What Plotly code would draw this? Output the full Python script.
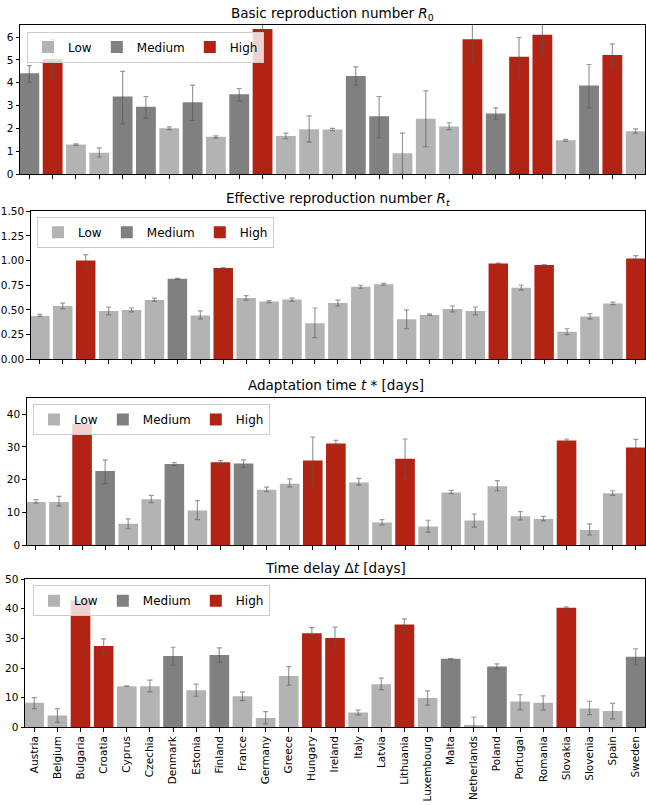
import plotly.graph_objects as go

countries = ["Austria", "Belgium", "Bulgaria", "Croatia", "Cyprus", "Czechia", "Denmark",
             "Estonia", "Finland", "France", "Germany", "Greece", "Hungary", "Ireland",
             "Italy", "Latvia", "Lithuania", "Luxembourg", "Malta", "Netherlands", "Poland",
             "Portugal", "Romania", "Slovakia", "Slovenia", "Spain", "Sweden"]

# Panel 1: basic reproduction number R0
r0_val = [4.42, 5.04, 1.30, 0.94, 3.40, 2.95, 2.01, 3.15, 1.64, 3.50, 6.36, 1.67, 1.97, 1.95,
          4.30, 2.53, 0.92, 2.43, 2.09, 5.91, 2.66, 5.14, 6.10, 1.48, 3.88, 5.22, 1.88]
r0_lo = [4.02, 4.25, 1.26, 0.75, 2.20, 2.45, 1.95, 2.35, 1.58, 3.20, 5.70, 1.55, 1.40, 1.90,
         3.90, 1.60, 0.00, 1.20, 1.95, 5.00, 2.40, 4.20, 5.20, 1.45, 2.90, 4.70, 1.80]
r0_hi = [4.75, 5.90, 1.33, 1.15, 4.50, 3.40, 2.07, 3.90, 1.68, 3.75, 7.00, 1.80, 2.55, 2.00,
         4.70, 3.40, 1.80, 3.65, 2.25, 6.80, 2.90, 5.98, 6.80, 1.52, 4.80, 5.70, 1.98]
r0_grp = ["Medium", "High", "Low", "Low", "Medium", "Medium", "Low", "Medium", "Low", "Medium",
          "High", "Low", "Low", "Low", "Medium", "Medium", "Low", "Low", "Low", "High", "Medium",
          "High", "High", "Low", "Medium", "High", "Low"]

# Panel 2: effective reproduction number Rt
rt_val = [0.44, 0.54, 1.00, 0.49, 0.50, 0.60, 0.815, 0.445, 0.925, 0.62, 0.585, 0.605, 0.365,
          0.57, 0.735, 0.76, 0.405, 0.45, 0.51, 0.49, 0.97, 0.725, 0.955, 0.28, 0.435, 0.565, 1.02]
rt_lo = [0.435, 0.51, 0.93, 0.45, 0.48, 0.59, 0.81, 0.41, 0.915, 0.60, 0.575, 0.59, 0.22,
         0.54, 0.72, 0.75, 0.31, 0.445, 0.48, 0.45, 0.965, 0.70, 0.95, 0.25, 0.41, 0.555, 0.99]
rt_hi = [0.455, 0.57, 1.06, 0.53, 0.52, 0.62, 0.82, 0.49, 0.93, 0.645, 0.595, 0.62, 0.52,
         0.60, 0.75, 0.77, 0.50, 0.46, 0.54, 0.53, 0.975, 0.75, 0.96, 0.31, 0.46, 0.58, 1.05]
rt_grp = ["Low", "Low", "High", "Low", "Low", "Low", "Medium", "Low", "High", "Low", "Low",
          "Low", "Low", "Low", "Low", "Low", "Low", "Low", "Low", "Low", "High", "Low", "High",
          "Low", "Low", "Low", "High"]

# Panel 3: adaptation time t* [days]
ta_val = [13.2, 13.2, 37.0, 22.6, 6.5, 14.0, 24.8, 10.6, 25.3, 24.9, 16.9, 18.7, 25.8, 31.0,
          19.1, 6.9, 26.4, 5.7, 16.1, 7.5, 18.0, 8.8, 8.0, 31.9, 4.6, 15.8, 29.8]
ta_lo = [12.8, 12.0, 35.8, 18.8, 5.0, 13.0, 24.3, 7.8, 24.6, 23.7, 16.3, 17.8, 18.3, 30.0,
         18.3, 6.2, 20.1, 4.0, 15.7, 5.5, 16.6, 7.7, 7.4, 31.5, 3.1, 15.2, 27.4]
ta_hi = [13.9, 14.9, 38.0, 26.0, 8.0, 15.2, 25.2, 13.6, 25.8, 26.0, 17.7, 20.2, 33.0, 32.0,
         20.4, 7.8, 32.4, 7.6, 16.7, 9.5, 19.7, 10.2, 8.8, 32.4, 6.5, 16.6, 32.3]
ta_grp = ["Low", "Low", "High", "Medium", "Low", "Low", "Medium", "Low", "High", "Medium",
          "Low", "Low", "High", "High", "Low", "Low", "High", "Low", "Low", "Low", "Low", "Low",
          "Low", "High", "Low", "Low", "High"]

# Panel 4: time delay dt [days]
td_val = [8.3, 4.0, 42.8, 27.4, 13.9, 13.9, 24.1, 12.5, 24.4, 10.5, 3.2, 17.3, 31.7, 30.1,
          5.0, 14.5, 34.7, 9.9, 23.1, 0.8, 20.5, 8.7, 8.3, 40.3, 6.4, 5.5, 23.8]
td_lo = [6.3, 1.7, 41.0, 25.1, 13.8, 12.0, 21.0, 10.5, 21.9, 9.0, 1.2, 14.2, 30.0, 26.7,
         4.2, 12.7, 32.8, 7.5, 23.0, 0.0, 19.8, 6.0, 5.9, 40.0, 4.3, 2.9, 21.1]
td_hi = [10.0, 6.3, 44.5, 29.8, 14.0, 15.9, 27.0, 14.6, 26.8, 12.0, 5.3, 20.5, 33.6, 33.8,
         5.8, 16.6, 36.6, 12.3, 23.2, 3.5, 21.4, 11.0, 10.6, 40.6, 8.8, 8.1, 26.5]
td_grp = ["Low", "Low", "High", "High", "Low", "Low", "Medium", "Low", "Medium", "Low", "Low",
          "Low", "High", "High", "Low", "Low", "High", "Low", "Medium", "Low", "Medium", "Low",
          "Low", "High", "Low", "Low", "Medium"]

groups = ["Low", "Medium", "High"]
group_colors = {"Low": "#b3b3b3", "Medium": "#808080", "High": "#b22314"}

titles = ["Basic reproduction number <i>R</i><sub>0</sub>",
          "Effective reproduction number <i>R<sub>t</sub></i>",
          "Adaptation time <i>t</i> * [days]",
          "Time delay Δ<i>t</i> [days]"]

W, H = 646, 805
# panel boxes in pixels: (left, right, top, bottom)
boxes = [(20, 645, 19.3, 170.7), (30.7, 645, 208.3, 358.7),
         (26.7, 645, 398.3, 547.3), (25, 645, 581.7, 732.3)]
title_y = [8, 196, 385, 570]
legend_pos = [(27, 26), (37, 214), (33, 404), (33, 588)]
yranges = [[0, 6.53], [0, 1.5], [0, 44.8], [0, 50]]
ydticks = [1, 0.25, 10, 10]
yformats = ["d", ".2f", "d", "d"]

panels = [(r0_val, r0_lo, r0_hi, r0_grp), (rt_val, rt_lo, rt_hi, rt_grp),
          (ta_val, ta_lo, ta_hi, ta_grp), (td_val, td_lo, td_hi, td_grp)]

FONT = "DejaVu Sans"
fig = go.Figure()
layout = dict(width=W, height=H, margin=dict(l=0, r=0, t=0, b=0),
              plot_bgcolor="white", paper_bgcolor="white", barmode="overlay",
              font=dict(family=FONT, color="black", size=10.5), annotations=[])

for p, (vals, lo, hi, grp) in enumerate(panels):
    n = p + 1
    xa = "x" if n == 1 else f"x{n}"
    ya = "y" if n == 1 else f"y{n}"
    lg = "legend" if n == 1 else f"legend{n}"
    for g in groups:
        idx = [i for i, gg in enumerate(grp) if gg == g]
        fig.add_trace(go.Bar(
            x=[countries[i] for i in idx],
            y=[vals[i] for i in idx],
            width=0.85,
            name=g,
            marker=dict(color=group_colors[g], line=dict(width=0)),
            error_y=dict(type="data", symmetric=False,
                         array=[hi[i] - vals[i] for i in idx],
                         arrayminus=[vals[i] - lo[i] for i in idx],
                         color="rgba(85,85,85,0.6)", thickness=1.2, width=2.5),
            xaxis=xa, yaxis=ya, legend=lg, showlegend=True,
        ))
    l, r, t, b = boxes[p]
    xkey = "xaxis" if n == 1 else f"xaxis{n}"
    ykey = "yaxis" if n == 1 else f"yaxis{n}"
    layout[xkey] = dict(domain=[l / W, r / W], anchor=ya, type="category",
                        categoryorder="array", categoryarray=countries,
                        range=[-0.4, 26.4], showline=True, linecolor="black", linewidth=1,
                        mirror=True, ticks="outside", ticklen=3.5, tickcolor="black",
                        showticklabels=(n == 4), tickangle=-90, showgrid=False,
                        tickfont=dict(size=10.5))
    layout[ykey] = dict(domain=[1 - b / H, 1 - t / H], anchor=xa, range=yranges[p],
                        dtick=ydticks[p], tick0=0, tickformat=yformats[p],
                        showline=True, linecolor="black", linewidth=1, mirror=True,
                        ticks="outside", ticklen=3.5, tickcolor="black", showgrid=False,
                        zeroline=False, tickfont=dict(size=10.5))
    lx, ly = legend_pos[p]
    layout[lg] = dict(x=lx / W, y=1 - ly / H, xanchor="left", yanchor="top",
                      orientation="h", bgcolor="rgba(255,255,255,0.8)",
                      bordercolor="#cccccc", borderwidth=1,
                      font=dict(size=12, family=FONT), itemwidth=30,
                      tracegroupgap=0)
    layout["annotations"].append(dict(
        text=titles[p], x=(l + r) / 2 / W, y=1 - title_y[p] / H, xref="paper", yref="paper",
        xanchor="center", yanchor="middle", showarrow=False,
        font=dict(size=13.5, family=FONT)))

fig.update_layout(**layout)
fig.write_html("out.html", config={"displayModeBar": False},
               post_script="document.body.style.margin='0';document.body.style.overflow='hidden';")
